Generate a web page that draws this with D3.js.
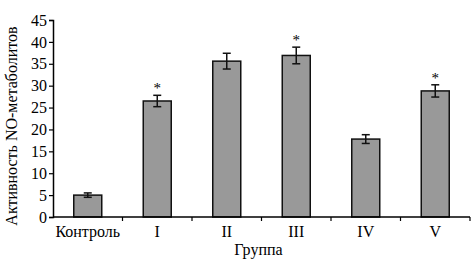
<!DOCTYPE html>
<html>
<head>
<meta charset="utf-8">
<script src="https://cdn.jsdelivr.net/npm/d3@7"></script>
<style>
  body { margin: 0; background: #fff; }
  text { font-family: "Liberation Serif", "DejaVu Serif", serif; fill: #000; }
</style>
</head>
<body>
<div id="chart"></div>
<script>
// data
var groups = ["Контроль", "I", "II", "III", "IV", "V"]
var values = [5.0, 26.5, 35.6, 36.9, 17.8, 28.8]
var errors = [0.5, 1.3, 1.8, 1.9, 1.0, 1.4]
var marked = [false, true, false, true, false, true]
var yTicks = [0, 5, 10, 15, 20, 25, 30, 35, 40, 45]

var W = 472, H = 260
var margin = {top: 20, right: 2, bottom: 43, left: 53}
var width = W - margin.left - margin.right
var height = H - margin.top - margin.bottom

var svg = d3.select("#chart").append("svg")
  .attr("width", W)
  .attr("height", H)

var g = svg.append("g")
  .attr("transform", "translate(" + margin.left + "," + margin.top + ")")

var xBand = d3.scaleBand().domain(groups).range([0, width])

var y = d3.scaleLinear()
  .domain([0, 45])
  .range([height, 0])

var data = groups.map(function (d, i) {
  return {name: d, value: values[i], err: errors[i], star: marked[i]}
})

// bars
g.selectAll("rect.bar")
  .data(data)
  .enter().append("rect")
  .attr("class", "bar")
  .attr("x", d => xBand(d.name) + xBand.bandwidth() / 2 - 14)
  .attr("width", 28)
  .attr("y", d => y(d.value))
  .attr("height", d => height - y(d.value))
  .attr("fill", "#999")
  .attr("stroke", "#111")
  .attr("stroke-width", 1.5)

// error bars
var eb = g.selectAll("g.err")
  .data(data)
  .enter().append("g")
  .attr("class", "err")
  .attr("transform", d => "translate(" + (xBand(d.name) + xBand.bandwidth() / 2) + ",0)")

eb.append("line")
  .attr("y1", d => y(d.value + d.err))
  .attr("y2", d => y(d.value - d.err))
  .attr("stroke", "#111").attr("stroke-width", 1.5)
eb.append("line")
  .attr("x1", -4).attr("x2", 4)
  .attr("y1", d => y(d.value + d.err)).attr("y2", d => y(d.value + d.err))
  .attr("stroke", "#111").attr("stroke-width", 1.5)
eb.append("line")
  .attr("x1", -4).attr("x2", 4)
  .attr("y1", d => y(d.value - d.err)).attr("y2", d => y(d.value - d.err))
  .attr("stroke", "#111").attr("stroke-width", 1.5)

// significance marks
eb.filter(d => d.star).append("text")
  .attr("y", d => y(d.value + d.err) - 2)
  .attr("text-anchor", "middle")
  .style("font-size", "15px")
  .text("*")

// y axis
var yAxis = g.append("g")
  .call(d3.axisLeft(y).tickValues(yTicks).tickSize(4).tickPadding(2))
yAxis.select(".domain").attr("stroke", "#000").attr("stroke-width", 1.5)
yAxis.selectAll(".tick line").attr("stroke", "#000").attr("stroke-width", 1.2)
yAxis.selectAll("text").style("font-size", "16px").attr("fill", "#000")

// x axis: ticks sit on band boundaries
var xAxis = g.append("g")
  .attr("transform", "translate(0," + height + ")")
xAxis.append("line")
  .attr("x1", 0).attr("x2", width)
  .attr("stroke", "#000").attr("stroke-width", 1.5)
xAxis.selectAll("line.tk")
  .data(groups)
  .enter().append("line")
  .attr("class", "tk")
  .attr("x1", d => xBand(d) + xBand.bandwidth())
  .attr("x2", d => xBand(d) + xBand.bandwidth())
  .attr("y1", 0).attr("y2", 4)
  .attr("stroke", "#000").attr("stroke-width", 1.2)
xAxis.selectAll("text.lbl")
  .data(groups)
  .enter().append("text")
  .attr("class", "lbl")
  .attr("x", d => xBand(d) + xBand.bandwidth() / 2)
  .attr("y", 20)
  .attr("text-anchor", "middle")
  .style("font-size", "16px")
  .text(d => d)

// axis titles
svg.append("text")
  .attr("x", margin.left + width / 2 - 3)
  .attr("y", H - 5)
  .attr("text-anchor", "middle")
  .style("font-size", "16px")
  .text("Группа")

svg.append("text")
  .attr("transform", "translate(17," + 126 + ") rotate(-90)")
  .attr("text-anchor", "middle")
  .style("font-size", "16px")
  .text("Активность NO-метаболитов")
</script>
</body>
</html>
